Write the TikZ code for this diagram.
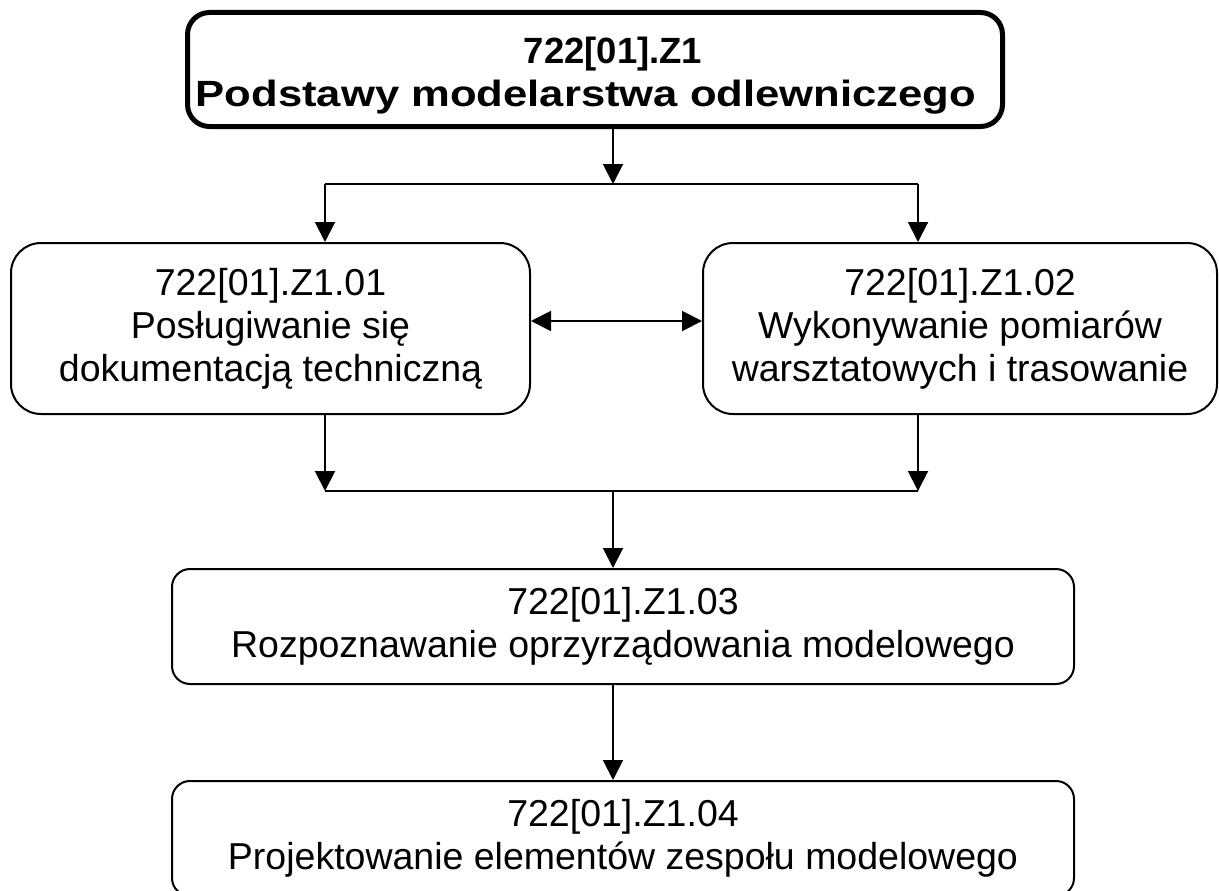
\documentclass[tikz,border=0pt]{standalone}
\usepackage{fontspec}
\usepackage{graphicx}
\setmainfont{Liberation Sans}
\usetikzlibrary{arrows.meta}
\begin{document}
\begin{tikzpicture}[x=1pt,y=-1pt,
  box/.style={draw, line width=2pt, inner sep=0pt, align=center,
    font=\fontsize{37.5}{43}\selectfont},
  mainbox/.style={box, line width=5pt, rounded corners=22pt,
    font=\fontsize{36.5}{43}\selectfont\bfseries},
  midbox/.style={box, rounded corners=30pt},
  lowbox/.style={box, rounded corners=18pt},
  link/.style={line width=2pt},
  arr/.style={link, -{Triangle[length=20pt,width=20pt]}},
  arrboth/.style={link, {Triangle[length=20pt,width=20pt]}-{Triangle[length=20pt,width=20pt]}}]
\useasboundingbox (0,0) rectangle (1219,891);
\clip (0,0) rectangle (1219,891);

% modules
\node[mainbox, minimum width=815pt, minimum height=114pt] (top) at (595,69.5)
  {\rule{0pt}{38pt}\hspace*{36pt}722[01].Z1\\
   \hspace*{-18pt}\scalebox{1.195}[1]{Podstawy modelarstwa odlewniczego}};
\node[midbox, minimum width=519pt, minimum height=171pt] (b1) at (270.5,328.5)
  {722[01].Z1.01\\Posługiwanie się\\dokumentacją techniczną};
\node[midbox, minimum width=514pt, minimum height=171pt] (b2) at (960,328.5)
  {722[01].Z1.02\\Wykonywanie pomiarów\\warsztatowych i trasowanie};
\node[lowbox, minimum width=902pt, minimum height=115pt] (b3) at (623,626.5)
  {722[01].Z1.03\\Rozpoznawanie oprzyrządowania modelowego};
\node[lowbox, minimum width=902pt, minimum height=115pt] (b4) at (623,838.5)
  {722[01].Z1.04\\Projektowanie elementów zespołu modelowego};

% junction points
\coordinate (s)  at (613,184);
\coordinate (sl) at (325,184);
\coordinate (sr) at (918,184);
\coordinate (m)  at (617,321);
\coordinate (j)  at (613,491);
\coordinate (jl) at (325,491);
\coordinate (jr) at (918,491);

% connectors
\draw[arr] (s |- top.south) -- (s);
\draw[link] (sl) -- (sr);
\draw[arr] (sl) -- (sl |- b1.north);
\draw[arr] (sr) -- (sr |- b2.north);
\draw[arrboth] (b1.east |- m) -- (b2.west |- m);
\draw[arr] (jl |- b1.south) -- (jl);
\draw[arr] (jr |- b2.south) -- (jr);
\draw[link] (jl) -- (jr);
\draw[arr] (j) -- (j |- b3.north);
\draw[arr] (j |- b3.south) -- (j |- b4.north);
\end{tikzpicture}
\end{document}
